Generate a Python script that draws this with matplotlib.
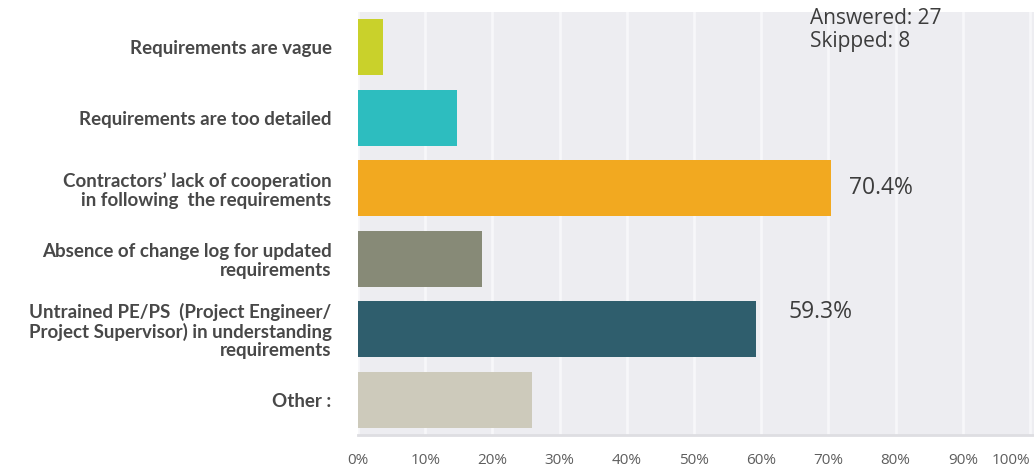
import numpy as np
import matplotlib.pyplot as plt

# Survey responses (share of respondents, %)
categories = [
    "Requirements are vague",
    "Requirements are too detailed",
    "Contractors\u2019 lack of cooperation\nin following  the requirements",
    "Absence of change log for updated\nrequirements",
    "Untrained PE/PS  (Project Engineer/\nProject Supervisor) in understanding\nrequirements",
    "Other :",
]
values = [3.7, 14.8, 70.4, 18.5, 59.3, 25.9]
colors = ["#C9D12B", "#2DBDBF", "#F2A920", "#878A77", "#2F5E6D", "#CDCABB"]
shown_labels = {2: "70.4%", 4: "59.3%"}
answered, skipped = 27, 8
xticks = np.arange(0, 101, 10)

fig = plt.figure(figsize=(10.34, 4.70), dpi=100)
ax = fig.add_axes([0.3462, 0.0745, 0.6538, 0.9])
ax.set_facecolor("#EDEDF1")

y = np.arange(len(categories))
ax.barh(y, values, height=0.8, color=colors, zorder=3)

ax.set_xlim(0, 100.6)
ax.set_ylim(len(categories) - 0.5, -0.5)

ax.set_xticks(xticks)
ax.set_xticklabels([f"{t}%" for t in xticks], fontsize=11, color="#5e5e5e",
                   family="Open Sans")
ax.get_xticklabels()[-1].set_ha("right")
ax.tick_params(axis="x", length=0, pad=13)
ax.grid(axis="x", color="#F7F7F9", linewidth=2, zorder=1)

ax.set_yticks(y)
ax.set_yticklabels(categories, fontsize=13.5, color="#484848", family="Lato",
                   fontweight="bold", linespacing=1.1)
ax.tick_params(axis="y", length=0, pad=19)

for s in ["top", "left", "right"]:
    ax.spines[s].set_visible(False)
ax.spines["bottom"].set_color("#DEDEE2")
ax.spines["bottom"].set_linewidth(2)

# value annotations on the two largest answers
offsets = {2: (2.7, 0.0), 4: (4.7, -0.25)}
for i, txt in shown_labels.items():
    dx, dy = offsets[i]
    ax.text(values[i] + dx, y[i] + dy, txt, va="center", ha="left",
            fontsize=16.5, color="#3c3c3c", family="Open Sans", zorder=4)

ax.text(0.669, 1.01, f"Answered: {answered}\nSkipped: {skipped}",
        transform=ax.transAxes, va="top", ha="left", fontsize=15,
        color="#3c3c3c", family="Open Sans", linespacing=1.12)

fig.savefig("out.png", dpi=100, facecolor="white")
